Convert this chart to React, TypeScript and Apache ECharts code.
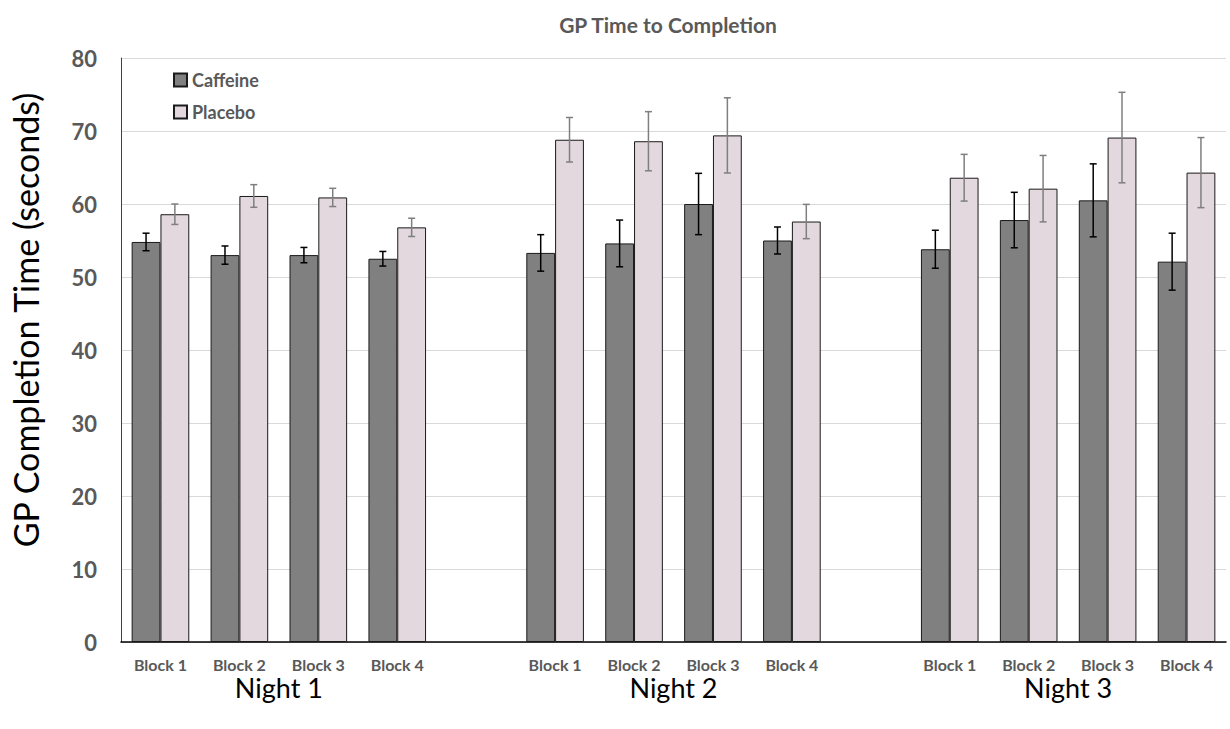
import React, { useEffect, useRef } from "react";
import * as echarts from "echarts";

// Categories: 3 nights x 4 blocks, with an empty slot between nights
const blockNames = ["Block 1", "Block 2", "Block 3", "Block 4"];
const nightNames = ["Night 1", "Night 2", "Night 3"];

// Means (seconds), per night, per block
const caffeineMean = [
  [54.8, 53.0, 53.0, 52.5],
  [53.3, 54.6, 60.0, 55.0],
  [53.8, 57.8, 60.5, 52.1],
];
const placeboMean = [
  [58.6, 61.1, 60.9, 56.8],
  [68.8, 68.6, 69.4, 57.6],
  [63.6, 62.1, 69.1, 64.3],
];
// Error (+/-) in seconds
const caffeineErr = [
  [1.2, 1.25, 1.05, 1.0],
  [2.5, 3.2, 4.2, 1.85],
  [2.6, 3.8, 5.0, 3.9],
];
const placeboErr = [
  [1.4, 1.55, 1.25, 1.25],
  [3.05, 4.05, 5.15, 2.35],
  [3.2, 4.55, 6.2, 4.8],
];

const yTicks = { min: 0, max: 80, interval: 10 };

const FONT = "Lato, 'Open Sans', sans-serif";
const GAP_RATIO = 0.27;

function buildCategories() {
  const cats: string[] = [];
  nightNames.forEach((_, n) => {
    blockNames.forEach((b) => cats.push(b));
    if (n < nightNames.length - 1) cats.push("");
  });
  return cats;
}

function buildSeries(values: number[][]) {
  const out: (number | string)[] = [];
  values.forEach((night, n) => {
    night.forEach((v) => out.push(v));
    if (n < values.length - 1) out.push("-");
  });
  return out;
}

function buildErr(values: number[][], errs: number[][]) {
  const out: number[][] = [];
  let idx = 0;
  values.forEach((night, n) => {
    night.forEach((v, b) => {
      out.push([idx, v, errs[n][b]]);
      idx++;
    });
    idx++; // gap slot
  });
  return out;
}

function errRender(side: number, color: string, width: number) {
  return (params: any, api: any) => {
    const x = api.value(0);
    const m = api.value(1);
    const e = api.value(2);
    const band = api.size([1, 0])[0];
    const bw = (band * (1 - GAP_RATIO)) / 2;
    const top = api.coord([x, m + e]);
    const bot = api.coord([x, m - e]);
    const cx = top[0] + (side * bw) / 2;
    const cap = 3.5;
    const style = { stroke: color, lineWidth: width };
    return {
      type: "group",
      children: [
        { type: "line", shape: { x1: cx, y1: top[1], x2: cx, y2: bot[1] }, style },
        { type: "line", shape: { x1: cx - cap, y1: top[1], x2: cx + cap, y2: top[1] }, style },
        { type: "line", shape: { x1: cx - cap, y1: bot[1], x2: cx + cap, y2: bot[1] }, style },
      ],
    };
  };
}

export default function App() {
  const ref = useRef<HTMLDivElement>(null);
  useEffect(() => {
    if (!ref.current) return;
    const chart = echarts.init(ref.current, null, { renderer: "svg" });
    const categories = buildCategories();
    const slotCount = categories.length;
    const nightCenter: Record<number, string> = {};
    nightNames.forEach((n, i) => {
      nightCenter[i * (blockNames.length + 1) + blockNames.length / 2] = n;
    });

    chart.setOption({
      animation: false,
      backgroundColor: "#fff",
      title: {
        text: "GP Time to Completion",
        left: 663,
        textAlign: "center",
        top: 9,
        textStyle: { fontFamily: FONT, fontSize: 21, fontWeight: "bold", color: "#595959" },
      },
      legend: {
        data: ["Caffeine", "Placebo"],
        orient: "vertical",
        left: 168,
        top: 66,
        itemWidth: 13,
        itemHeight: 13,
        itemGap: 14,
        icon: "rect",
        textStyle: { fontFamily: FONT, fontSize: 18, fontWeight: "bold", color: "#595959" },
      },
      grid: { left: 120, right: 4, top: 58, bottom: 87, containLabel: false },
      xAxis: [
        {
          type: "category",
          data: categories,
          axisLine: { lineStyle: { color: "#000", width: 1.5 } },
          axisTick: { show: false },
          axisLabel: {
            interval: 0,
            margin: 14,
            fontFamily: FONT,
            fontSize: 16,
            fontWeight: "bold",
            color: "#595959",
          },
        },
        {
          type: "value",
          min: 0,
          max: slotCount,
          interval: 1,
          position: "bottom",
          axisLine: { show: false },
          axisTick: { show: false },
          splitLine: { show: false },
          axisLabel: {
            margin: 32,
            fontFamily: FONT,
            fontSize: 27,
            color: "#000",
            showMinLabel: true,
            showMaxLabel: true,
            formatter: (v: number) => nightCenter[v] ?? "",
          },
        },
      ],
      yAxis: {
        type: "value",
        min: yTicks.min,
        max: yTicks.max,
        interval: yTicks.interval,
        name: "GP Completion Time (seconds)",
        nameLocation: "middle",
        nameGap: 79,
        nameTextStyle: { fontFamily: FONT, fontSize: 34, color: "#000", padding: [0, 0, 0, 60] },
        axisLine: { show: true, lineStyle: { color: "#404040", width: 1 } },
        axisTick: { show: false },
        axisLabel: {
          margin: 24,
          fontFamily: FONT,
          fontSize: 22,
          fontWeight: "bold",
          color: "#595959",
        },
        splitLine: { lineStyle: { color: "#d9d9d9", width: 1 } },
      },
      series: [
        {
          name: "Caffeine",
          type: "bar",
          data: buildSeries(caffeineMean),
          barGap: "0%",
          barCategoryGap: GAP_RATIO * 100 + "%",
          itemStyle: { color: "#808080", borderColor: "#1a1a1a", borderWidth: 1 },
        },
        {
          name: "Placebo",
          type: "bar",
          data: buildSeries(placeboMean),
          barGap: "0%",
          barCategoryGap: GAP_RATIO * 100 + "%",
          itemStyle: { color: "#e2d8de", borderColor: "#1a1a1a", borderWidth: 1 },
        },
        {
          name: "CaffeineErr",
          type: "custom",
          data: buildErr(caffeineMean, caffeineErr),
          encode: { x: 0, y: [1] },
          renderItem: errRender(-1, "#000", 1.5),
          z: 5,
        },
        {
          name: "PlaceboErr",
          type: "custom",
          data: buildErr(placeboMean, placeboErr),
          encode: { x: 0, y: [1] },
          renderItem: errRender(1, "#7f7f7f", 1.5),
          z: 5,
        },
      ],
    });
    return () => chart.dispose();
  }, []);
  return (
    <div
      ref={ref}
      style={{ position: "fixed", left: 0, top: 0, width: 1230, height: 729 }}
    />
  );
}
